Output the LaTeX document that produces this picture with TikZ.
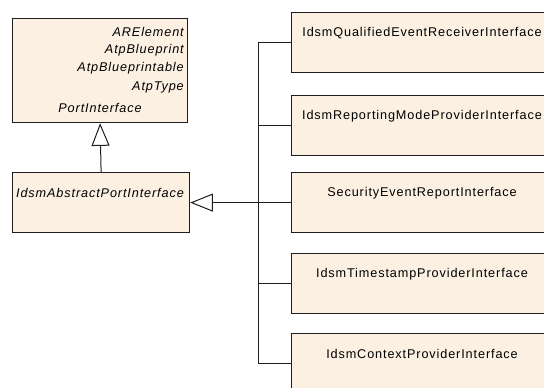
\documentclass[tikz,border=0pt]{standalone}
\usepackage{fontspec}
\usetikzlibrary{arrows.meta}
\newfontfamily\umlfont[LetterSpace=7]{Liberation Sans}
\definecolor{umlfill}{HTML}{FBF0E2}
\definecolor{umlline}{HTML}{1E1E1E}
\tikzset{
  umlbox/.style={draw=umlline,fill=umlfill,line width=0.9pt,inner sep=0pt,anchor=north west},
  umltext/.style={font=\umlfont\fontsize{9.5}{11}\selectfont,inner sep=0pt},
  umlgen/.style={line width=0.75pt,draw=umlline,-{Triangle[length=17pt,width=13.5pt,fill=white,line width=0.75pt]}},
}

\begin{document}
\begin{tikzpicture}[x=0.75pt,y=-0.75pt]
  \clip (0,0) rectangle (544,387);
  % parents on the left
  \node[umlbox,minimum width=131.25pt,minimum height=78pt] (port) at (12,18) {};
  \foreach \y/\t/\n in {32/ARElement/are,50/AtpBlueprint/bp,68/AtpBlueprintable/bpa,87/AtpType/typ}{\node[umltext,anchor=east] (\n) at (184,\y) {\itshape\t};}
  \node[umltext] (portname) at (100,108) {\itshape PortInterface};
  \node[umlbox,minimum width=132.75pt,minimum height=45pt] (abs) at (12,172) {};
  \node[umltext] (absname) at (100,193) {\itshape IdsmAbstractPortInterface};
  % the five interfaces
  \foreach \y/\n/\t in {12/qer/IdsmQualifiedEventReceiverInterface,95/rmp/IdsmReportingModeProviderInterface,
      172/ser/SecurityEventReportInterface,253/tsp/IdsmTimestampProviderInterface,333/ctx/IdsmContextProviderInterface}{
    \node[umlbox,minimum width=197.25pt,minimum height=45pt] (\n) at (291,\y) {};
    \node[umltext] (\n-name) at (422,\y+21) {\t};
  }
  % generalizations
  \draw[umlgen] (abs.north) -- (port.south);
  \coordinate (bus) at (258,0);
  \draw[umlgen] (ser.west) -- (abs.east);
  \draw[line width=0.75pt,umlline] (qer.west) -- (qer.west -| bus) -- (ctx.west -| bus) -- (ctx.west);
  \foreach \n in {rmp,tsp}{\draw[line width=0.75pt,umlline] (\n.west) -- (\n.west -| bus);}
\end{tikzpicture}
\end{document}
